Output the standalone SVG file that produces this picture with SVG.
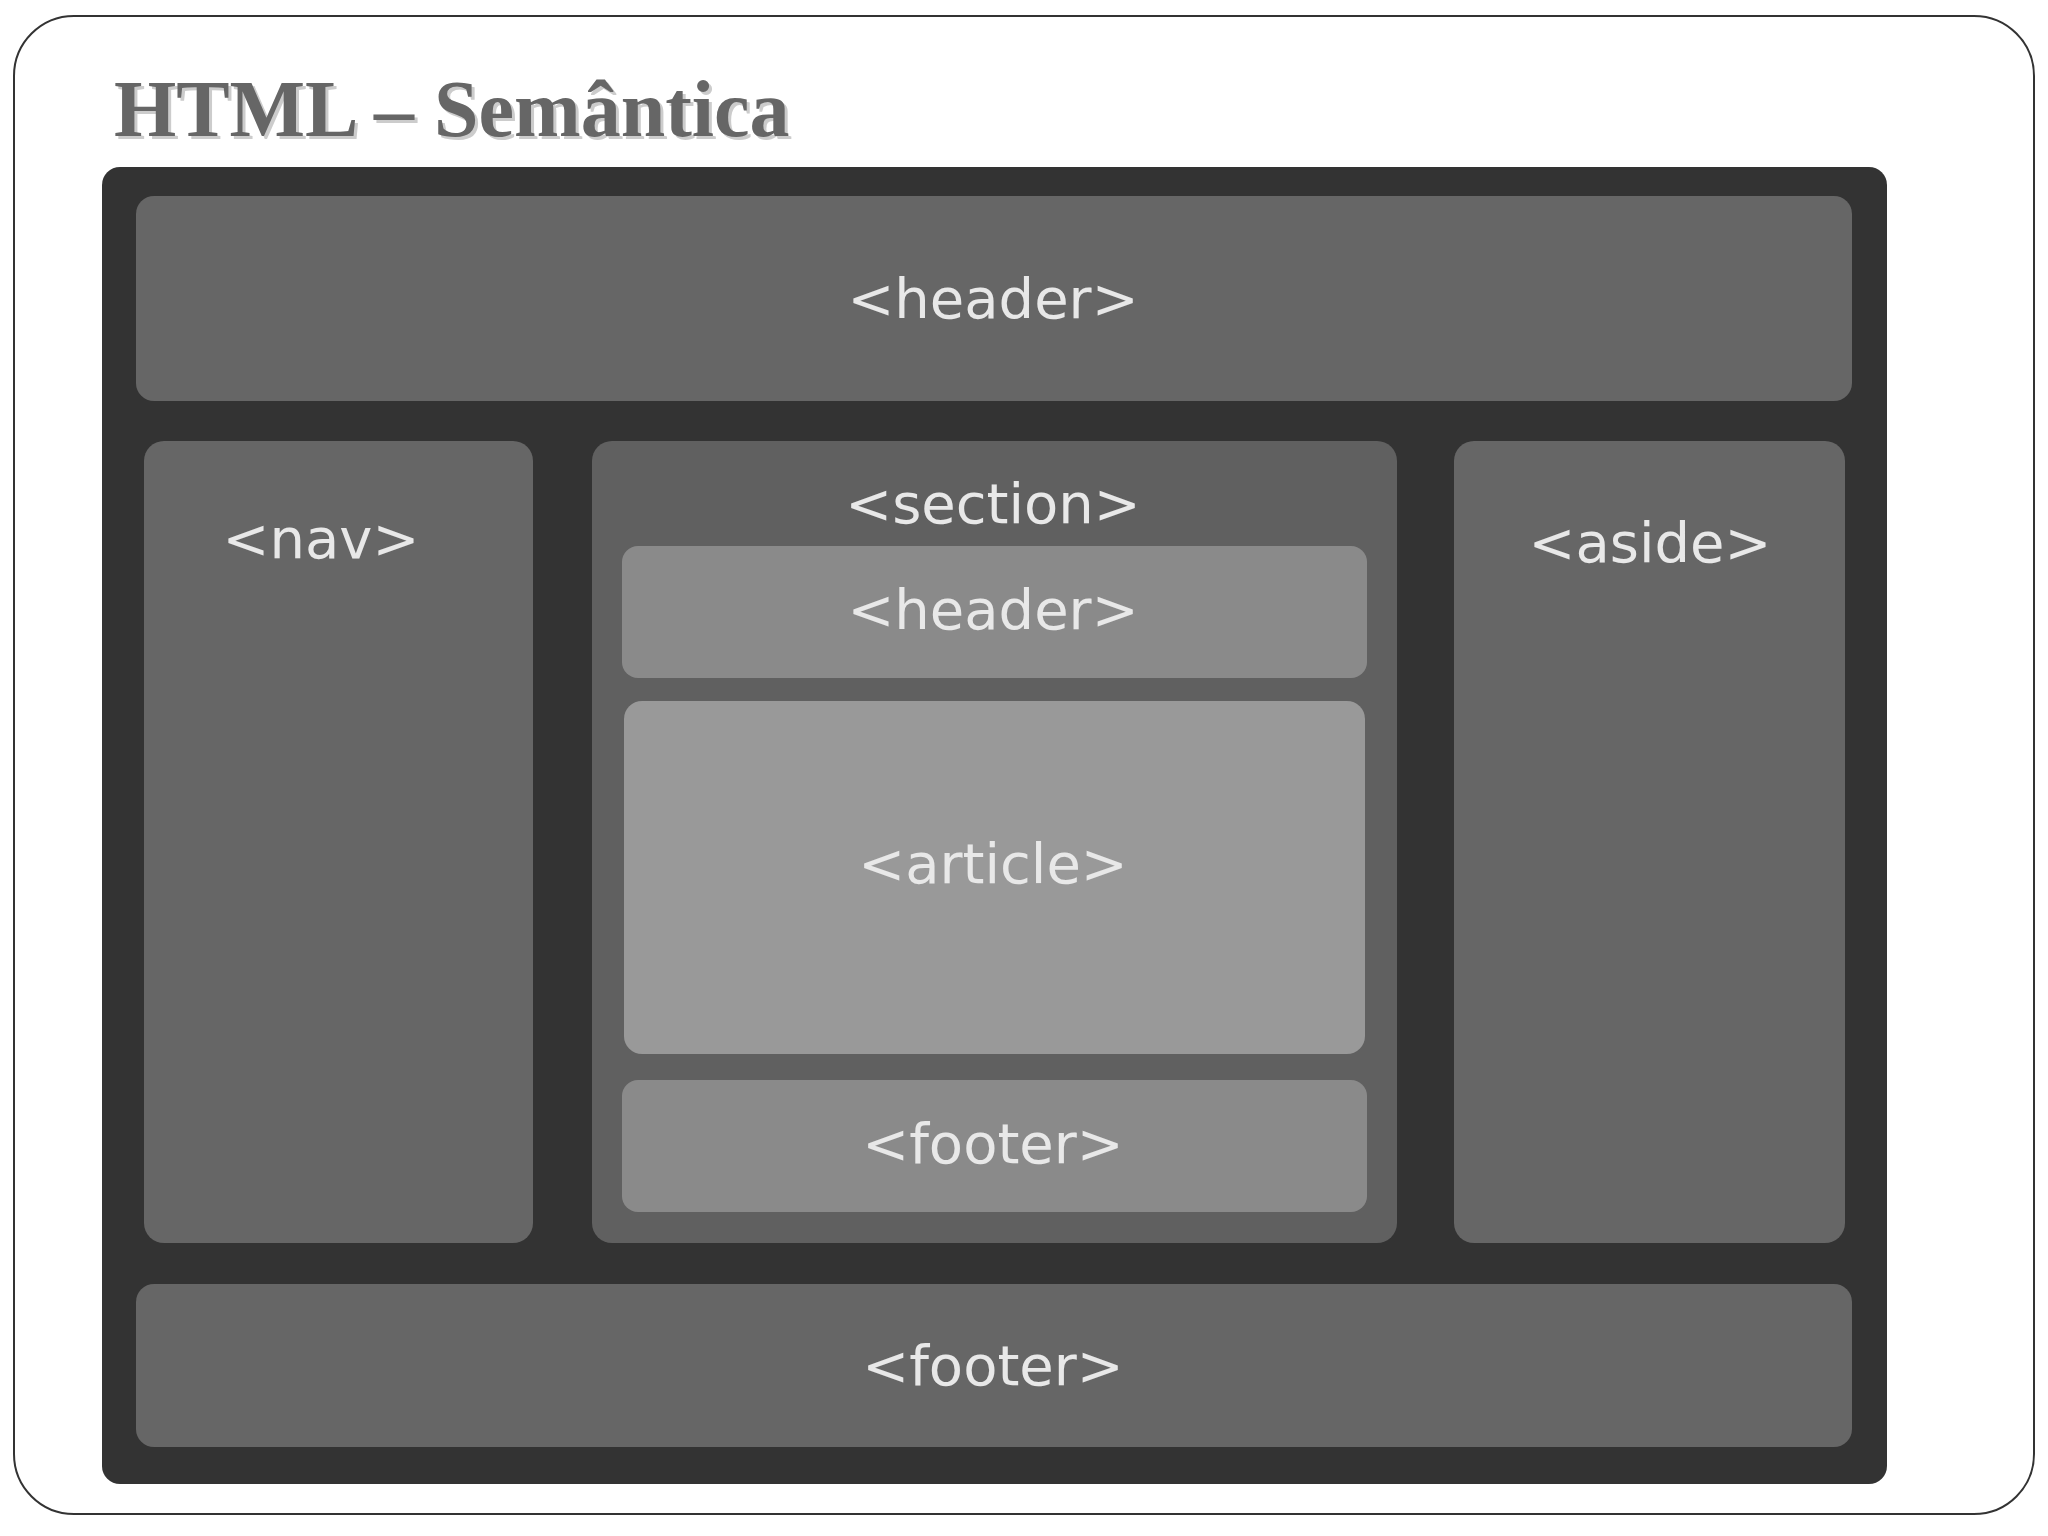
<svg xmlns="http://www.w3.org/2000/svg" width="2048" height="1536" viewBox="0 0 2048 1536">
<style>
.lbl{font-family:"DejaVu Sans",Verdana,sans-serif;font-size:56px;fill:#e8e8e8;text-anchor:middle;dominant-baseline:central}
.dk{fill:#666}
</style>
<rect width="2048" height="1536" fill="#fff"/>
<rect x="14" y="16" width="2020" height="1498" rx="60" fill="#fff" stroke="#333" stroke-width="2"/>
<text x="117" y="139" font-family="Liberation Serif,serif" font-weight="bold" font-size="80" fill="#ccc">HTML – Semântica</text>
<text x="114" y="136" font-family="Liberation Serif,serif" font-weight="bold" font-size="80" fill="#666">HTML – Semântica</text>
<rect x="102" y="167" width="1785" height="1317" rx="18" fill="#333"/>
<g id="header"><rect class="dk" x="136" y="196" width="1716" height="205" rx="18"/><text class="lbl" x="993" y="298">&lt;header&gt;</text></g>
<g id="nav"><rect class="dk" x="144" y="441" width="389" height="802" rx="20"/><text class="lbl" x="321" y="538">&lt;nav&gt;</text></g>
<g id="section"><rect x="592" y="441" width="805" height="802" rx="20" fill="#606060"/><text class="lbl" x="993" y="503">&lt;section&gt;</text></g>
<g id="aside"><rect class="dk" x="1454" y="441" width="391" height="802" rx="20"/><text class="lbl" x="1650" y="542">&lt;aside&gt;</text></g>
<g id="section-header"><rect x="622" y="546" width="745" height="132" rx="16" fill="#8a8a8a"/><text class="lbl" x="993" y="609">&lt;header&gt;</text></g>
<g id="article"><rect x="624" y="701" width="741" height="353" rx="18" fill="#999"/><text class="lbl" x="993" y="863">&lt;article&gt;</text></g>
<g id="section-footer"><rect x="622" y="1080" width="745" height="132" rx="16" fill="#8a8a8a"/><text class="lbl" x="993" y="1143">&lt;footer&gt;</text></g>
<g id="footer"><rect class="dk" x="136" y="1284" width="1716" height="163" rx="18"/><text class="lbl" x="993" y="1365">&lt;footer&gt;</text></g>
<g id="connectors"/>
</svg>
